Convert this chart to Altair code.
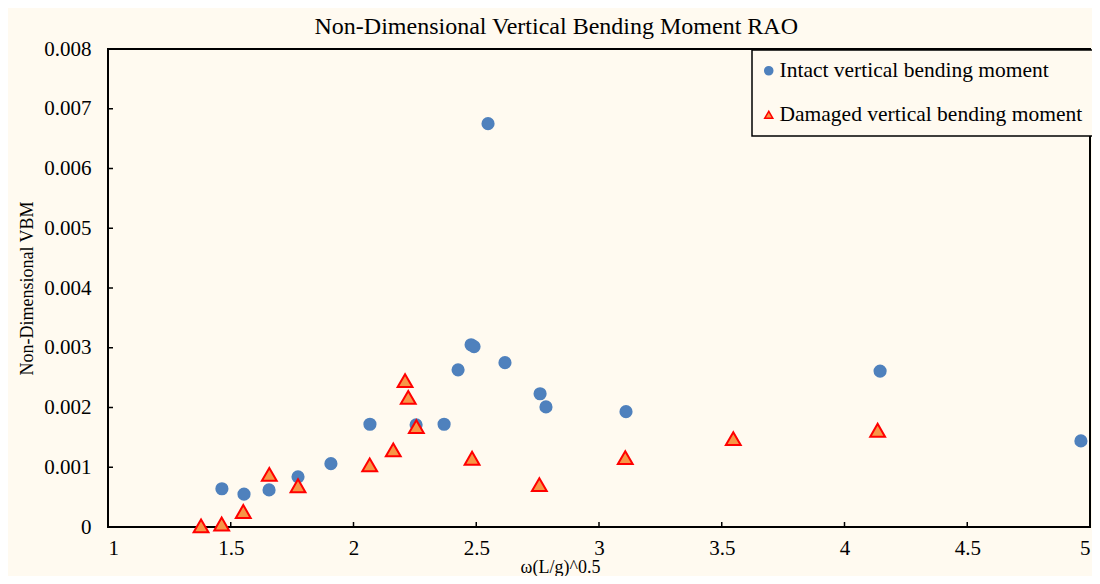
import altair as alt
import pandas as pd

# Data
intact_x = [1.464, 1.554, 1.656, 1.774, 1.908, 2.067, 2.255, 2.369, 2.426, 2.479, 2.491,
            2.548, 2.617, 2.760, 2.784, 3.110, 4.145, 4.963]
intact_y = [0.00064, 0.00055, 0.00062, 0.00084, 0.00106, 0.00172, 0.00171, 0.00172, 0.00263,
            0.00305, 0.00302, 0.00675, 0.00275, 0.00223, 0.00201, 0.00193, 0.00261, 0.00144]

damaged_x = [1.379, 1.463, 1.551, 1.657, 1.774, 2.066, 2.162, 2.210, 2.223, 2.256, 2.483,
             2.757, 3.107, 3.547, 4.135]
damaged_y = [0.00002, 0.00005, 0.00026, 0.00088, 0.00069, 0.00104, 0.00129, 0.00245, 0.00217,
             0.00168, 0.00115, 0.00071, 0.00116, 0.00148, 0.00162]

series_names = ["Intact vertical bending moment", "Damaged vertical bending moment"]
x_ticks = [1, 1.5, 2, 2.5, 3, 3.5, 4, 4.5, 5]
y_ticks = [0, 0.001, 0.002, 0.003, 0.004, 0.005, 0.006, 0.007, 0.008]

df = pd.concat([
    pd.DataFrame({"x": intact_x, "y": intact_y, "series": series_names[0]}),
    pd.DataFrame({"x": damaged_x, "y": damaged_y, "series": series_names[1]}),
])
xt = pd.DataFrame({"v": x_ticks})
yt = pd.DataFrame({"v": y_ticks})

W, H = 982, 478
FONT = "Liberation Serif"
BG = "#FFFAF0"

xscale = alt.Scale(domain=[1, 5], nice=False, zero=False)
yscale = alt.Scale(domain=[0, 0.008], nice=False)

points = alt.Chart(df).mark_point(filled=True, strokeWidth=2, opacity=1).encode(
    x=alt.X("x:Q", scale=xscale, title="ω(L/g)^0.5",
            axis=alt.Axis(values=x_ticks, labelExpr="format(datum.value, '~g')",
                          titleX=452, titleY=31)),
    y=alt.Y("y:Q", scale=yscale, title="Non-Dimensional VBM",
            axis=alt.Axis(values=y_ticks,
                          labelExpr="datum.value == 0 ? '0' : format(datum.value, '.3f')")),
    fill=alt.Fill("series:N", scale=alt.Scale(domain=series_names, range=["#4F81BD", "#F79646"]),
                  title=None,
                  legend=alt.Legend(orient="none", legendX=644, legendY=1, symbolSize=65,
                                    symbolStrokeWidth=1.5, symbolOffset=-4)),
    stroke=alt.Stroke("series:N", scale=alt.Scale(domain=series_names, range=["#4F81BD", "#FF0000"]),
                      title=None),
    shape=alt.Shape("series:N", scale=alt.Scale(domain=series_names, range=["circle", "triangle-up"]),
                    title=None),
    size=alt.condition(alt.datum.series == series_names[1], alt.value(220), alt.value(125)),
)

xticks = alt.Chart(xt).mark_rule(color="black", strokeWidth=1.5).encode(
    x=alt.X("v:Q", scale=xscale), y=alt.value(H), y2=alt.value(H - 5)
)
yticks = alt.Chart(yt).mark_rule(color="black", strokeWidth=1.5).encode(
    y=alt.Y("v:Q", scale=yscale), x=alt.value(0), x2=alt.value(5)
)

chart = alt.layer(xticks, yticks, points).properties(
    width=W, height=H,
    title=alt.TitleParams("Non-Dimensional Vertical Bending Moment RAO", frame="bounds",
                          anchor="middle", fontSize=24, font=FONT, fontWeight="normal",
                          color="black", offset=6, dy=7),
    autosize=alt.AutoSizeParams(type="none"),
    padding={"left": 100, "top": 41, "right": 2, "bottom": 49},
    background=BG,
).configure_view(
    stroke="black", strokeWidth=2, fill=BG
).configure_axis(
    labelFont=FONT, titleFont=FONT, labelFontSize=21, titleFontSize=18,
    labelColor="black", titleColor="black", titleFontWeight="normal",
    grid=False, domain=False, ticks=False, tickSize=0,
).configure_axisX(
    labelPadding=10,
).configure_axisY(
    labelPadding=17, titlePadding=7,
).configure_legend(
    labelFont=FONT, labelFontSize=21.5, labelColor="black", padding=10, rowPadding=21,
    strokeColor="black", strokeWidth=1.5, fillColor=BG, labelOffset=0,
    labelLimit=400,
)

chart.save("out.html", embed_options={"renderer": "svg", "actions": False})
